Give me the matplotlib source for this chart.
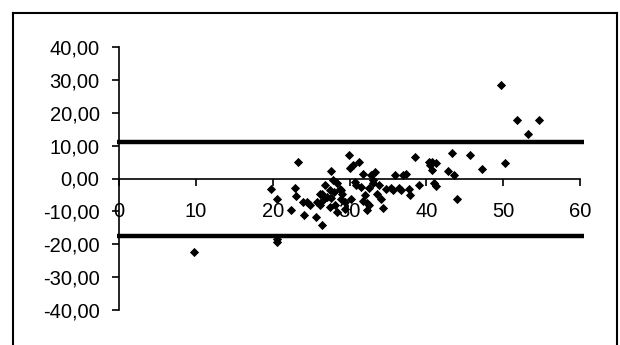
import matplotlib
matplotlib.use("Agg")
import matplotlib.pyplot as plt
from matplotlib.lines import Line2D

plt.rcParams['font.family'] = ['Liberation Sans', 'DejaVu Sans']

# mean of the two methods (x) and their difference (y)
mean_vals = [9.8, 20.6, 20.5, 19.8, 20.5, 22.4, 23.3, 22.9, 23.0, 24.1,
             24.0, 24.5, 25.6, 26.4, 26.2, 26.1, 26.6, 26.8, 27.6, 27.4,
             27.6, 27.4, 28.1, 28.4, 28.7, 28.9, 29.9, 30.0, 30.5, 31.2,
             30.7, 30.2, 29.4, 31.7, 32.0, 32.3, 32.3, 32.8, 33.0, 33.3,
             33.6, 34.1, 34.3, 34.8, 35.6, 35.9, 36.4, 36.9, 37.4, 37.7,
             37.9, 38.5, 39.0, 40.3, 40.5, 40.8, 41.3, 40.8, 41.0, 41.3,
             42.8, 43.3, 43.6, 44.0, 45.7, 47.3, 49.7, 50.2, 51.8, 53.2,
             54.6, 27.8, 28.0, 27.1, 26.4, 28.9, 30.9, 31.5, 32.5, 33.8,
             35.4, 36.7, 33.0, 29.4, 28.4, 25.8, 24.8, 29.0, 31.8, 32.6]
diff_vals = [-22.4, -19.3, -18.3, -3.3, -6.1, -9.5, 5.1, -2.8, -5.3, -11.2,
             -7.1, -7.3, -11.7, -14.0, -8.1, -4.6, -6.6, -2.0, 2.2, -3.6,
             -5.9, -8.6, -8.1, -10.2, -3.1, -6.1, 7.3, 3.3, 4.1, 5.1,
             -1.2, -6.1, -9.2, 1.5, -5.1, -7.6, -9.7, 1.0, -0.5, 2.0,
             -4.6, -6.1, -9.0, -3.1, -3.6, 1.0, -2.8, 1.0, 1.5, -3.1,
             -5.1, 6.6, -2.0, 5.1, 4.1, 5.1, 4.6, 2.5, -1.5, -2.2,
             2.2, 7.8, 1.2, -6.1, 7.3, 2.8, 28.3, 4.6, 17.8, 13.4,
             17.8, -0.5, -4.1, -5.6, -4.6, -3.6, -2.0, -2.5, -8.1, -2.0,
             -2.8, -3.6, -1.5, -7.1, -1.5, -7.1, -8.0, -4.8, -6.8, -3.0]

upper_limit = 11.1
lower_limit = -17.6

x_ticks = [0, 10, 20, 30, 40, 50, 60]
y_ticks = [40, 30, 20, 10, 0, -10, -20, -30, -40]

fig = plt.figure(figsize=(6.2, 3.45), dpi=100)
ax = fig.add_axes([119 / 620, 35 / 345, 461 / 620, 263 / 345])

ax.scatter(mean_vals, diff_vals, marker='D', s=22, color='black', zorder=3,
           linewidths=0)

for lim in (upper_limit, lower_limit):
    ax.plot([-0.2, 60.5], [lim, lim], color='black', lw=3.2,
            solid_capstyle='butt', clip_on=False)

ax.set_xlim(0, 60)
ax.set_ylim(-40, 40)

ax.spines['top'].set_visible(False)
ax.spines['right'].set_visible(False)
ax.spines['bottom'].set_position(('data', 0))
ax.spines['left'].set_linewidth(1.2)
ax.spines['bottom'].set_linewidth(1.2)

ax.set_xticks(x_ticks)
ax.set_xticklabels([str(t) for t in x_ticks])
ax.set_yticks(y_ticks)
ax.set_yticklabels([f"{t:.2f}".replace('.', ',') for t in y_ticks])

ax.tick_params(axis='x', direction='out', length=5, width=1.2, pad=12,
               labelsize=14.5)
ax.tick_params(axis='y', direction='out', length=5, width=1.2, pad=9,
               labelsize=14.5)

# outer frame (open at the bottom)
fx0, fx1, fy1 = 13 / 620, 617 / 620, 1 - 13 / 345
for xs, ys in (([fx0, fx0], [0, fy1]), ([fx0, fx1], [fy1, fy1]),
               ([fx1, fx1], [fy1, 0])):
    fig.add_artist(Line2D(xs, ys, transform=fig.transFigure, color='black',
                          lw=1.5))

fig.savefig("out.png", dpi=100)
